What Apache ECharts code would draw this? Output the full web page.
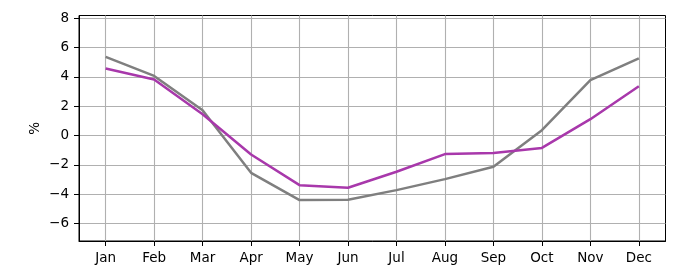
<!DOCTYPE html>
<html>
<head>
<meta charset="utf-8">
<script src="https://cdn.jsdelivr.net/npm/echarts@6/dist/echarts.min.js"></script>
<style>html,body{margin:0;padding:0;background:#fff}#c{width:680px;height:280px}</style>
</head>
<body>
<div id="c"></div>
<script>
var months = ['Jan','Feb','Mar','Apr','May','Jun','Jul','Aug','Sep','Oct','Nov','Dec'];
var grayValues = [5.36, 4.06, 1.72, -2.55, -4.41, -4.39, -3.73, -2.98, -2.14, 0.36, 3.77, 5.25];
var purpleValues = [4.57, 3.82, 1.45, -1.3, -3.39, -3.57, -2.48, -1.27, -1.19, -0.85, 1.11, 3.36];
var yTicks = [-6, -4, -2, 0, 2, 4, 6, 8];
var yName = '%';

var xIdx = months.map(function(m, i){ return i; });
function pairs(vals){ return vals.map(function(v, i){ return [i, v]; }); }

var chart = echarts.init(document.getElementById('c'), null, {renderer: 'canvas'});
var font = 'DejaVu Sans';
chart.setOption({
  animation: false,
  backgroundColor: '#fff',
  grid: {left: 79, right: 14.5, top: 15.5, bottom: 39, show: true, borderColor: '#000', borderWidth: 1, backgroundColor: 'transparent'},
  xAxis: {
    type: 'value', min: -0.55, max: 11.55,
    axisLine: {show: true, onZero: false, lineStyle: {color: '#000', width: 1}},
    axisTick: {show: true, inside: false, length: 5, lineStyle: {color: '#000'}, customValues: xIdx},
    axisLabel: {customValues: xIdx, margin: 10, color: '#000', fontFamily: font, fontSize: 13.5,
      formatter: function(v){ return months[Math.round(v)]; }},
    splitLine: {show: true, lineStyle: {color: '#b0b0b0', width: 1.1}}
  },
  yAxis: {
    type: 'value', min: -7.2, max: 8.18,
    name: yName, nameLocation: 'middle', nameGap: 37, nameRotate: 90, nameMoveOverlap: false,
    nameTextStyle: {color: '#000', fontFamily: font, fontSize: 13.5},
    axisLine: {show: true, onZero: false, lineStyle: {color: '#000', width: 1}},
    axisTick: {show: true, length: 5, lineStyle: {color: '#000'}, customValues: yTicks},
    axisLabel: {customValues: yTicks, margin: 10, color: '#000', fontFamily: font, fontSize: 13.5,
      formatter: function(v){ return (v < 0 ? '\u2212' + Math.abs(v) : String(v)); }},
    splitLine: {show: true, lineStyle: {color: '#b0b0b0', width: 1.1}}
  },
  series: [
    {type: 'line', data: pairs(grayValues), showSymbol: false, symbol: 'none',
     lineStyle: {color: '#7f7f7f', width: 2.5}, z: 3},
    {type: 'line', data: pairs(purpleValues), showSymbol: false, symbol: 'none',
     lineStyle: {color: '#a838ab', width: 2.5}, z: 4}
  ]
});
</script>
</body>
</html>
